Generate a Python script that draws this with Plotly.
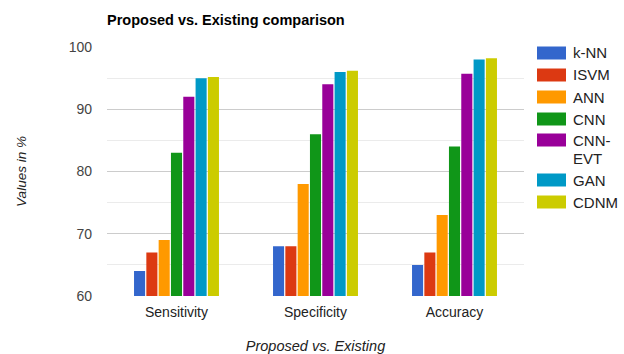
import plotly.graph_objects as go

# Metric categories and per-method scores (in %)
categories = ["Sensitivity", "Specificity", "Accuracy"]
methods = ["k-NN", "ISVM", "ANN", "CNN", "CNN-EVT", "GAN", "CDNM"]
knn = [64, 68, 65]
isvm = [67, 68, 67]
ann = [69, 78, 73]
cnn = [83, 86, 84]
cnn_evt = [92, 94, 95.7]
gan = [95, 96, 98]
cdnm = [95.2, 96.2, 98.2]
series = [knn, isvm, ann, cnn, cnn_evt, gan, cdnm]
legend_labels = ["k-NN", "ISVM", "ANN", "CNN", "CNN-\nEVT", "GAN", "CDNM"]
colors = ["#3366cc", "#dc3912", "#ff9900", "#109618", "#990099", "#0099c6", "#cccc00"]

W, H = 624, 354
L, R, T, B = 107, 100, 47, 58
plot_w = W - L - R
plot_h = H - T - B

FONT = "Liberation Sans, Arial, sans-serif"

fig = go.Figure()
for name, vals, col in zip(methods, series, colors):
    fig.add_trace(go.Bar(
        x=categories, y=vals, name=name,
        marker=dict(color=col, line=dict(width=0)),
        showlegend=False,
    ))


def px_x(px):
    return (px - L) / plot_w


def px_y(py):
    return (H - B - py) / plot_h


# Legend drawn as wide swatches with labels beside them
shapes = []
annotations = []
row_y = [53, 75, 97, 119, 140, 180, 202]
LINE_H = 18
for lab, col, cy in zip(legend_labels, colors, row_y):
    shapes.append(dict(
        type="rect", xref="paper", yref="paper",
        x0=px_x(537), x1=px_x(566), y0=px_y(cy + 6.5), y1=px_y(cy - 6.5),
        fillcolor=col, line=dict(width=0),
    ))
    for i, line in enumerate(lab.split("\n")):
        annotations.append(dict(
            text=line, xref="paper", yref="paper",
            x=px_x(571), y=px_y(cy + i * LINE_H), xanchor="left", yanchor="middle",
            align="left", showarrow=False,
            font=dict(family=FONT, size=15, color="#222222"),
        ))

fig.update_layout(
    width=W, height=H,
    margin=dict(l=L, r=R, t=T, b=B, autoexpand=False),
    paper_bgcolor="white", plot_bgcolor="white",
    barmode="group", bargap=0.38, bargroupgap=0.1,
    font=dict(family=FONT, size=14, color="#444444"),
    title=dict(
        text="<b>Proposed vs. Existing comparison</b>",
        x=L / W, xanchor="left", y=1 - 19.5 / H, yanchor="middle",
        font=dict(family=FONT, size=14.5, color="#000000"),
    ),
    xaxis=dict(
        automargin=False,
        showgrid=False, zeroline=False, showline=False, ticks="",
        ticklabelstandoff=6,
        tickfont=dict(family=FONT, size=14, color="#222222"),
        title=dict(
            text="<i>Proposed vs. Existing</i>", standoff=28,
            font=dict(family=FONT, size=14.5, color="#222222"),
        ),
    ),
    yaxis=dict(
        automargin=False,
        range=[60, 100], dtick=10, tick0=60,
        showgrid=True, gridcolor="#cccccc", gridwidth=1,
        zeroline=False, showline=False, ticks="",
        ticklabelstandoff=14,
        tickfont=dict(family=FONT, size=14, color="#444444"),
        minor=dict(dtick=5, showgrid=True, gridcolor="#ebebeb", gridwidth=1),
        title=dict(
            text="<i>Values in %</i>", standoff=38,
            font=dict(family=FONT, size=13.5, color="#222222"),
        ),
    ),
    shapes=shapes,
    annotations=annotations,
)

fig.write_html("out.html")
